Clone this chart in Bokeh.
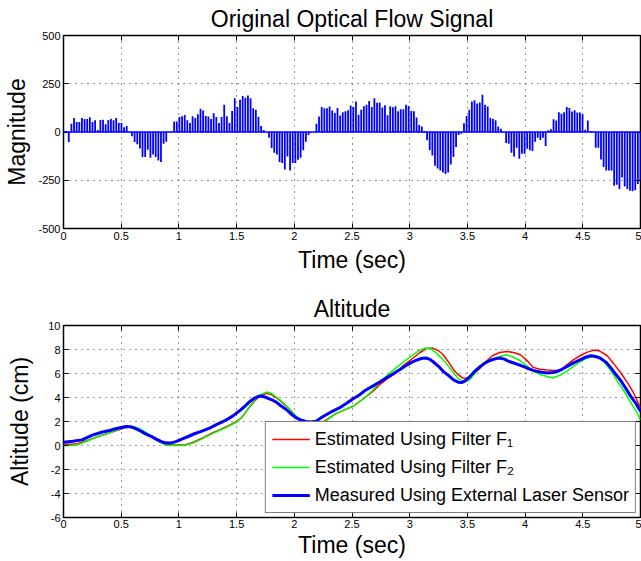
import numpy as np
from bokeh.plotting import figure
from bokeh.models import FixedTicker, LinearAxis, Legend, LegendItem, Range1d, Span
from bokeh.layouts import column
from bokeh.embed import file_html
from bokeh.resources import INLINE

# ---------------- data ----------------
flow_values = [5, 5, -52, 43, 73, 52, 52, 73, 68, 68, 76, 52, 61, 10, 62, 64, 40, 62, 69, 61, 73, 47,
               47, 24, 31, 0, -22, -52, -64, -85, -130, -130, -92, -134, -116, -130, -148, -155, -61,
               -50, 0, 0, 55, 54, 78, 82, 88, 61, 47, 82, 73, 92, 120, 111, 83, 80, 68, 97, 78, 47, 78,
               141, 82, 47, 109, 175, 130, 167, 187, 177, 189, 175, 123, 115, 78, 31, 10, 0, -30, -83,
               -108, -116, -155, -160, -194, -127, -200, -161, -160, -144, -134, -95, -50, -16, -3, 0,
               43, 80, 130, 123, 123, 132, 111, 99, 125, 85, 102, 108, 113, 137, 130, 158, 90, 115, 134,
               141, 160, 130, 175, 151, 153, 127, 139, 87, 134, 128, 134, 108, 118, 118, 141, 135, 109,
               108, 75, 36, 28, 5, -43, -95, -122, -175, -189, -200, -210, -218, -210, -168, -130, -78,
               -16, -9, 45, 83, 115, 158, 165, 148, 153, 193, 141, 132, 73, 69, 61, 28, 17, 0, -57, -61,
               -108, -127, -82, -139, -113, -113, -87, -95, -99, -50, -30, -42, -30, -73, 9, 14, 66, 59,
               102, 94, 102, 130, 125, 106, 113, 101, 101, 92, 12, 59, 5, 0, -82, -82, -142, -181, -200,
               -200, -200, -278, -273, -295, -236, -283, -295, -304, -307, -302, -269, -252]
flow_time = np.linspace(0, 5, len(flow_values))

laser_t = [0, 0.08, 0.16, 0.25, 0.33, 0.4, 0.45, 0.5, 0.54, 0.58, 0.62, 0.67, 0.71, 0.76, 0.8, 0.85,
           0.88, 0.92, 0.96, 1.0, 1.03, 1.08, 1.14, 1.2, 1.26, 1.32, 1.38, 1.43, 1.48, 1.52, 1.57, 1.61,
           1.65, 1.69, 1.72, 1.75, 1.8, 1.84, 1.88, 1.93, 1.97, 2.01, 2.05, 2.1, 2.14, 2.19, 2.23, 2.28,
           2.33, 2.39, 2.45, 2.51, 2.57, 2.62, 2.68, 2.74, 2.8, 2.86, 2.92, 2.97, 3.02, 3.06, 3.1, 3.14,
           3.17, 3.2, 3.25, 3.29, 3.34, 3.38, 3.42, 3.45, 3.48, 3.52, 3.56, 3.61, 3.65, 3.69, 3.74, 3.78,
           3.82, 3.86, 3.91, 3.96, 4.01, 4.07, 4.13, 4.19, 4.24, 4.28, 4.32, 4.36, 4.42, 4.48, 4.53, 4.57,
           4.61, 4.65, 4.7, 4.74, 4.78, 4.83, 4.87, 4.91, 4.96, 5.0]
laser_y = [0.28, 0.35, 0.47, 0.86, 1.1, 1.25, 1.4, 1.5, 1.58, 1.56, 1.42, 1.2, 0.97, 0.76, 0.55, 0.33,
           0.22, 0.2, 0.28, 0.42, 0.55, 0.75, 1.0, 1.2, 1.42, 1.72, 1.98, 2.24, 2.55, 2.85, 3.25, 3.63,
           3.92, 4.1, 4.12, 4.02, 3.83, 3.63, 3.33, 3.0, 2.65, 2.35, 2.15, 2.0, 1.95, 2.02, 2.3, 2.58,
           2.85, 3.13, 3.5, 3.9, 4.25, 4.63, 4.95, 5.29, 5.65, 6.0, 6.35, 6.68, 6.95, 7.12, 7.25, 7.29,
           7.2, 7.0, 6.6, 6.18, 5.8, 5.46, 5.28, 5.24, 5.38, 5.73, 6.15, 6.57, 6.85, 7.06, 7.22, 7.29,
           7.2, 7.0, 6.85, 6.68, 6.48, 6.26, 6.12, 6.04, 6.08, 6.18, 6.35, 6.57, 6.88, 7.15, 7.38, 7.48,
           7.42, 7.29, 6.95, 6.51, 6.0, 5.4, 4.8, 4.18, 3.5, 2.85]

f2_t = [0, 0.06, 0.12, 0.2, 0.3, 0.4, 0.48, 0.54, 0.58, 0.62, 0.67, 0.72, 0.78, 0.83, 0.88, 0.92, 1.05,
        1.12, 1.2, 1.28, 1.35, 1.42, 1.5, 1.55, 1.6, 1.65, 1.7, 1.76, 1.8, 1.85, 1.9, 1.95, 2.0, 2.05,
        2.1, 2.15, 2.2, 2.28, 2.35, 2.43, 2.51, 2.6, 2.68, 2.74, 2.81, 2.88, 2.95, 3.03, 3.09, 3.14,
        3.18, 3.22, 3.29, 3.34, 3.38, 3.42, 3.46, 3.49, 3.52, 3.56, 3.61, 3.66, 3.72, 3.78, 3.84, 3.9,
        3.96, 4.02, 4.07, 4.15, 4.24, 4.3, 4.36, 4.42, 4.48, 4.54, 4.59, 4.64, 4.68, 4.74, 4.8, 4.86,
        4.91, 4.96, 5.0]
f2_y = [0.0, 0.0, 0.05, 0.35, 0.75, 1.05, 1.35, 1.55, 1.62, 1.55, 1.35, 1.05, 0.65, 0.3, 0.05, 0.0, 0.0,
        0.2, 0.55, 0.95, 1.25, 1.55, 1.95, 2.4, 3.1, 3.7, 4.2, 4.45, 4.35, 4.0, 3.6, 3.15, 2.6, 2.1,
        1.65, 1.5, 1.6, 2.1, 2.6, 2.95, 3.27, 3.9, 4.6, 5.26, 5.9, 6.45, 7.0, 7.56, 7.95, 8.12,
        8.1, 7.8, 7.15, 6.55, 6.04, 5.6, 5.35, 5.35, 5.48, 5.95, 6.51, 6.95, 7.23, 7.42, 7.56, 7.35,
        7.06, 6.6, 6.18, 5.85, 5.62, 5.85, 6.18, 6.6, 7.0, 7.3, 7.42, 7.3, 7.0, 6.3, 5.35, 4.5,
        3.68, 2.9, 2.16]

f1_t = [0, 0.06, 0.12, 0.2, 0.3, 0.4, 0.48, 0.54, 0.58, 0.62, 0.67, 0.72, 0.78, 0.83, 0.88, 0.92, 1.05,
        1.12, 1.2, 1.28, 1.35, 1.42, 1.5, 1.55, 1.6, 1.65, 1.7, 1.76, 1.8, 1.85, 1.9, 1.95, 2.0, 2.05,
        2.1, 2.15, 2.2, 2.28, 2.35, 2.43, 2.51, 2.6, 2.68, 2.74, 2.81, 2.88, 2.95, 3.03, 3.09, 3.14,
        3.2, 3.25, 3.29, 3.34, 3.38, 3.42, 3.46, 3.49, 3.52, 3.56, 3.61, 3.66, 3.72, 3.78, 3.84, 3.9,
        3.96, 4.02, 4.07, 4.13, 4.19, 4.25, 4.31, 4.36, 4.42, 4.48, 4.54, 4.6, 4.64, 4.71, 4.77, 4.83,
        4.89, 4.94, 5.0]
f1_y = [0.1, 0.1, 0.15, 0.4, 0.75, 1.05, 1.3, 1.5, 1.55, 1.5, 1.3, 1.0, 0.6, 0.3, 0.1, 0.05, 0.05,
        0.25, 0.6, 1.0, 1.3, 1.6, 2.0, 2.4, 3.05, 3.65, 4.1, 4.35, 4.25, 3.95, 3.55, 3.1, 2.55, 2.05,
        1.65, 1.55, 1.7, 2.16, 2.6, 2.95, 3.27, 3.9, 4.5, 5.07, 5.6, 6.04, 6.7, 7.29, 7.75, 8.06,
        8.12, 7.9, 7.56, 6.9, 6.32, 5.9, 5.62, 5.6, 5.68, 6.0, 6.45, 7.0, 7.5, 7.75, 7.84, 7.75,
        7.56, 7.05, 6.51, 6.35, 6.29, 6.25, 6.29, 6.7, 7.15, 7.5, 7.78, 7.95, 7.9, 7.5, 6.8, 6.04,
        5.2, 4.38, 3.13]

x_ticks = [0, 0.5, 1, 1.5, 2, 2.5, 3, 3.5, 4, 4.5, 5]
x_tick_labels = ["0", "0.5", "1", "1.5", "2", "2.5", "3", "3.5", "4", "4.5", "5"]
mag_ticks = [-500, -250, 0, 250, 500]
mag_tick_labels = ["-500", "-250", "0", "250", "500"]
alt_ticks = [-6, -4, -2, 0, 2, 4, 6, 8, 10]
alt_tick_labels = ["-6", "-4", "-2", "0", "2", "4", "6", "8", "10"]

FONT = "Liberation Sans"


def style(p, xt, xl, yt, yl, xlabel, ylabel, title, ylabel_standoff, xlabel_standoff, xtick_standoff):
    p.title.text = title
    p.title.align = "center"
    p.title.text_font = FONT
    p.title.text_font_size = "23px"
    p.title.text_font_style = "normal"
    p.title.text_color = "black"
    p.title.standoff = 7
    p.outline_line_color = "black"
    p.outline_line_width = 1.5
    p.outline_line_alpha = 1
    p.background_fill_color = "white"
    p.border_fill_color = "white"

    xa = p.xaxis[0]
    ya = p.yaxis[0]
    for ax, ticks, labels in ((xa, xt, xl), (ya, yt, yl)):
        ax.ticker = FixedTicker(ticks=ticks)
        ax.major_label_overrides = {float(t): s for t, s in zip(ticks, labels)}
        ax.major_label_text_font = FONT
        ax.major_label_text_font_size = "11px"
        ax.major_label_text_color = "black"
        ax.major_tick_in = 5
        ax.major_tick_out = 0
        ax.minor_tick_line_color = None
        ax.major_tick_line_color = "black"
        ax.axis_line_color = None
        ax.major_label_standoff = 3
        ax.axis_label_text_font = FONT
        ax.axis_label_text_font_size = "23px"
        ax.axis_label_text_font_style = "normal"
        ax.axis_label_text_color = "black"
    xa.axis_label = xlabel
    ya.axis_label = ylabel
    xa.major_label_standoff = xtick_standoff
    xa.axis_label_standoff = xlabel_standoff
    ya.axis_label_standoff = ylabel_standoff

    # box ticks on top and right
    for loc, ticks in (("above", xt), ("right", yt)):
        ax = LinearAxis(ticker=FixedTicker(ticks=ticks))
        ax.major_label_text_font_size = "0px"
        ax.major_label_text_alpha = 0
        ax.major_label_standoff = 0
        ax.major_tick_in = 5
        ax.major_tick_out = 0
        ax.minor_tick_line_color = None
        ax.major_tick_line_color = "black"
        ax.axis_line_color = None
        p.add_layout(ax, loc)

    for g in (p.xgrid[0], p.ygrid[0]):
        g.grid_line_color = "#333333"
        g.grid_line_dash = "1 5"
        g.grid_line_width = 1


# ---------------- top: optical flow ----------------
p1 = figure(width=641, height=290, x_range=Range1d(0, 5), y_range=Range1d(-500, 500),
            output_backend="svg", toolbar_location=None,
            min_border_left=63, min_border_right=1, min_border_top=35, min_border_bottom=62)
style(p1, x_ticks, x_tick_labels, mag_ticks, mag_tick_labels, "Time (sec)", "Magnitude",
      "Original Optical Flow Signal", 5, 4, 3)
p1.segment(x0=flow_time, y0=np.zeros(len(flow_values)), x1=flow_time, y1=flow_values,
           line_color="#0000FF", line_width=1.8)
p1.add_layout(Span(location=0, dimension="width", line_color="#0000FF", line_width=1.5))

# ---------------- bottom: altitude ----------------
p2 = figure(width=641, height=271, x_range=Range1d(0, 5), y_range=Range1d(-6, 10),
            output_backend="svg", toolbar_location=None,
            min_border_left=63, min_border_right=1, min_border_top=34, min_border_bottom=44)
style(p2, x_ticks, x_tick_labels, alt_ticks, alt_tick_labels, "Time (sec)", "Altitude (cm)",
      "Altitude", 12, 1, 2)
r1 = p2.line(f1_t, f1_y, line_color="#FF0000", line_width=1.5)
r2 = p2.line(f2_t, f2_y, line_color="#00FF00", line_width=1.5)
r3 = p2.line(laser_t, laser_y, line_color="#0000FF", line_width=3)

legend = Legend(items=[
    LegendItem(label="Estimated Using Filter F\u2081", renderers=[r1]),
    LegendItem(label="Estimated Using Filter F\u2082", renderers=[r2]),
    LegendItem(label="Measured Using External Laser Sensor", renderers=[r3]),
], location="bottom_right")
legend.label_text_font = FONT
legend.label_text_font_size = "18px"
legend.label_text_color = "black"
legend.glyph_width = 38
legend.glyph_height = 22
legend.label_height = 22
legend.label_standoff = 5
legend.spacing = 6
legend.padding = 6
legend.margin = 4
legend.border_line_color = "black"
legend.border_line_width = 1.5
legend.background_fill_alpha = 1
p2.add_layout(legend, "center")

layout = column(p1, p2, spacing=0)
open("out.html", "w").write(file_html(layout, INLINE))
